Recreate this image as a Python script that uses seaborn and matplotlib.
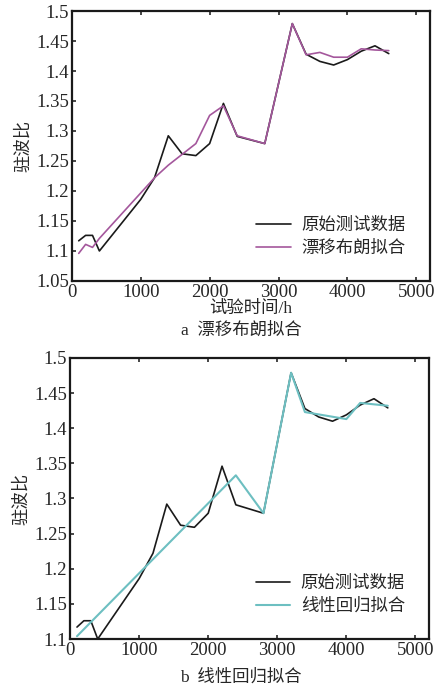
import matplotlib
matplotlib.use("Agg")
import matplotlib.pyplot as plt
import seaborn as sns
from matplotlib.ticker import FuncFormatter, MultipleLocator

# raw test data (shared by both panels)
t_raw = [100, 200, 300, 400, 1000, 1200, 1400, 1600, 1800, 2000, 2200, 2400,
         2800, 3200, 3400, 3600, 3800, 4000, 4200, 4400, 4600]
vswr_raw = [1.117, 1.126, 1.126, 1.100, 1.186, 1.222, 1.292, 1.262, 1.259, 1.279,
            1.346, 1.291, 1.279, 1.479, 1.428, 1.416, 1.410, 1.419, 1.433, 1.442, 1.429]

# drift brownian fit
t_drift = [100, 200, 300, 400, 1200, 1400, 1600, 1800, 2000, 2200, 2400,
           2800, 3200, 3400, 3600, 3800, 4000, 4200, 4400, 4600]
vswr_drift = [1.096, 1.111, 1.106, 1.121, 1.222, 1.243, 1.261, 1.279, 1.326, 1.342,
              1.292, 1.279, 1.479, 1.427, 1.431, 1.423, 1.423, 1.437, 1.435, 1.434]

# linear regression fit
t_lin = [100, 2400, 2800, 3200, 3400, 4000, 4200, 4600]
vswr_lin = [1.104, 1.333, 1.279, 1.479, 1.423, 1.413, 1.436, 1.432]

labels_raw = "原始测试数据"
label_drift = "漂移布朗拟合"
label_lin = "线性回归拟合"

sns.set_style("ticks")
fonts = ['Liberation Serif', 'Noto Sans CJK SC', 'DejaVu Sans']
plt.rcParams['font.family'] = fonts
plt.rcParams['font.size'] = 12
plt.rcParams['axes.unicode_minus'] = False

fig = plt.figure(figsize=(4.38, 6.88), dpi=100)
ax1 = fig.add_axes([0.164, 0.5916, 0.818, 0.3924])
ax2 = fig.add_axes([0.160, 0.0712, 0.820, 0.4085])

sns.lineplot(x=t_raw, y=vswr_raw, ax=ax1, color='#1a1a1a', lw=1.2, sort=False, label=labels_raw)
sns.lineplot(x=t_drift, y=vswr_drift, ax=ax1, color='#a4579c', lw=1.2, sort=False, label=label_drift)

sns.lineplot(x=t_raw, y=vswr_raw, ax=ax2, color='#1a1a1a', lw=1.2, sort=False, label=labels_raw)
sns.lineplot(x=t_lin, y=vswr_lin, ax=ax2, color='#6dbfc1', lw=1.5, sort=False, label=label_lin)

for ax, ylo in [(ax1, 1.05), (ax2, 1.1)]:
    ax.set_xlim(0, 5200)
    ax.set_ylim(ylo, 1.5)
    ax.xaxis.set_major_locator(MultipleLocator(1000))
    ax.yaxis.set_major_locator(MultipleLocator(0.05))
    ax.yaxis.set_major_formatter(FuncFormatter(lambda v, p: f'{v:g}'))
    ax.tick_params(direction='in', length=3, width=1.2, labelsize=13.5, pad=2,
                   top=True, right=False)
    for s in ax.spines.values():
        s.set_linewidth(1.6)
        s.set_color('#1a1a1a')
    ax.set_ylabel("驻波比", fontsize=12.5, labelpad=3)
    ax.set_xlabel("")
    leg = ax.legend(loc='lower right', frameon=False, fontsize=12.5,
                    handlelength=2.0, handletextpad=0.6, borderaxespad=1.0,
                    labelspacing=0.35)

ax1.set_xlabel("试验时间/h", fontsize=12.5, labelpad=0)
fig.text(0.55, 0.519, "a  漂移布朗拟合", ha='center', va='center', fontsize=12.5)
fig.text(0.55, 0.016, "b  线性回归拟合", ha='center', va='center', fontsize=12.5)

fig.savefig("out.png", dpi=100)
